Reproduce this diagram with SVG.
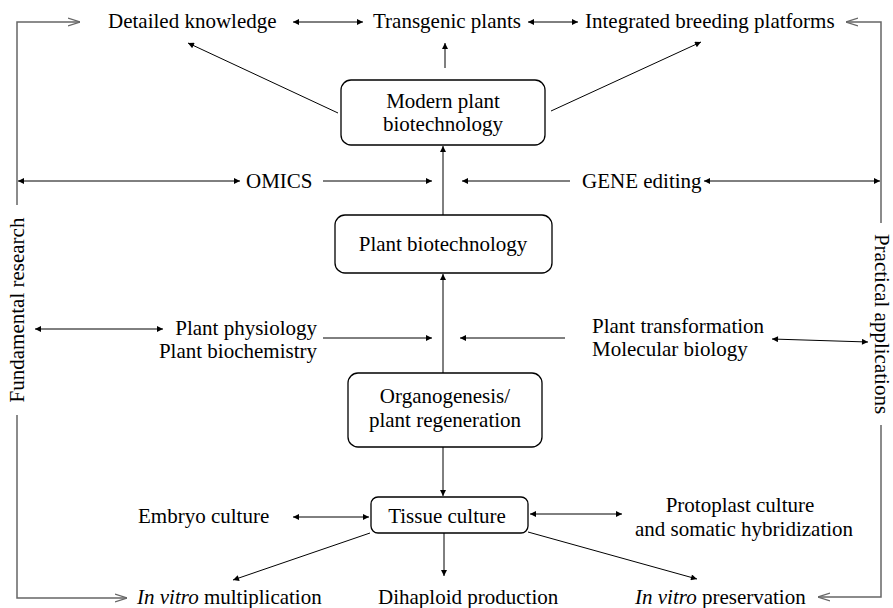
<svg xmlns="http://www.w3.org/2000/svg" width="893" height="608" viewBox="0 0 893 608">
  <style>
    text { font-family: "Liberation Serif", "Times New Roman", serif; font-size: 21px; fill: #000; }
    .c { text-anchor: middle; }
    .e { text-anchor: end; }
    .box { fill: #fff; stroke: #000; stroke-width: 1.3; }
    .ln { fill: none; stroke: #000; stroke-width: 1; }
    .arr { marker-end: url(#ah); }
    .dbl { marker-start: url(#ah); marker-end: url(#ah); }
    .br { fill: none; stroke: #666; stroke-width: 1.5; }
    .open { marker-end: url(#open); }
  </style>
  <defs>
    <marker id="ah" viewBox="0 0 10 10" refX="10" refY="5" markerWidth="8" markerHeight="6" markerUnits="userSpaceOnUse" orient="auto-start-reverse">
      <path d="M0,0 L10,5 L0,10 z" fill="#000"/>
    </marker>
    <marker id="open" viewBox="0 0 12 10" refX="12" refY="5" markerWidth="12" markerHeight="10" markerUnits="userSpaceOnUse" orient="auto">
      <path d="M0,1 L12,5 L0,9" fill="none" stroke="#666" stroke-width="1.2"/>
    </marker>
  </defs>

  <!-- side brackets: fundamental research / practical applications -->
  <g id="bracket-left">
    <path class="br open" d="M17,205 V22 H80"/>
    <path class="br open" d="M17,415 V598 H127"/>
    <text class="c" transform="translate(24,310) rotate(-90)">Fundamental research</text>
  </g>
  <g id="bracket-right">
    <path class="br open" d="M881,223 V22 H846"/>
    <path class="br open" d="M881,425 V597 H818"/>
    <text class="c" transform="translate(875,324) rotate(90)">Practical applications</text>
  </g>

  <!-- central boxes -->
  <g id="modern">
    <rect class="box" x="341" y="80" width="204" height="65" rx="10"/>
    <text class="c" x="443" y="108">Modern plant</text>
    <text class="c" x="443" y="131">biotechnology</text>
  </g>
  <g id="plant-biotech">
    <rect class="box" x="335" y="215" width="217" height="58" rx="10"/>
    <text class="c" x="443" y="251">Plant biotechnology</text>
  </g>
  <g id="organogenesis">
    <rect class="box" x="348" y="373" width="194" height="74" rx="10"/>
    <text class="c" x="445" y="403">Organogenesis/</text>
    <text class="c" x="445" y="427">plant regeneration</text>
  </g>
  <g id="tissue">
    <rect class="box" x="371" y="497" width="157" height="36" rx="7"/>
    <text class="c" x="447" y="523">Tissue culture</text>
  </g>

  <!-- outcome and input labels -->
  <g id="detailed"><text x="108" y="28">Detailed knowledge</text></g>
  <g id="transgenic"><text x="373" y="28">Transgenic plants</text></g>
  <g id="integrated"><text x="585" y="28">Integrated breeding platforms</text></g>
  <g id="omics"><text x="246" y="188">OMICS</text></g>
  <g id="gene"><text x="582" y="188">GENE editing</text></g>
  <g id="physiology">
    <text class="e" x="317" y="335">Plant physiology</text>
    <text class="e" x="317" y="358">Plant biochemistry</text>
  </g>
  <g id="transformation">
    <text x="592" y="333">Plant transformation</text>
    <text x="592" y="356">Molecular biology</text>
  </g>
  <g id="embryo"><text x="138" y="523">Embryo culture</text></g>
  <g id="protoplast">
    <text class="c" x="740" y="512">Protoplast culture</text>
    <text class="c" x="744" y="536">and somatic hybridization</text>
  </g>
  <g id="multiplication"><text x="137" y="604"><tspan font-style="italic">In vitro</tspan> multiplication</text></g>
  <g id="dihaploid"><text x="378" y="604">Dihaploid production</text></g>
  <g id="preservation"><text x="635" y="604"><tspan font-style="italic">In vitro</tspan> preservation</text></g>

  <!-- connectors -->
  <g id="connectors">
    <line class="ln dbl" x1="293" y1="22" x2="363" y2="22"/>
    <line class="ln dbl" x1="528" y1="22" x2="578" y2="22"/>
    <line class="ln arr" x1="445" y1="68" x2="445" y2="43"/>
    <line class="ln arr" x1="338" y1="113" x2="188" y2="43"/>
    <line class="ln arr" x1="551" y1="111" x2="701" y2="42"/>

    <line class="ln arr" x1="443" y1="215" x2="443" y2="146"/>
    <line class="ln dbl" x1="18" y1="181" x2="240" y2="181"/>
    <line class="ln arr" x1="323" y1="181" x2="432" y2="181"/>
    <line class="ln arr" x1="570" y1="181" x2="462" y2="181"/>
    <line class="ln dbl" x1="704" y1="181" x2="880" y2="181"/>

    <line class="ln arr" x1="443" y1="373" x2="443" y2="274"/>
    <line class="ln dbl" x1="35" y1="329" x2="163" y2="329"/>
    <line class="ln arr" x1="323" y1="338" x2="432" y2="338"/>
    <line class="ln arr" x1="565" y1="338" x2="460" y2="338"/>
    <line class="ln dbl" x1="772" y1="339" x2="868" y2="342"/>

    <line class="ln arr" x1="443" y1="447" x2="443" y2="496"/>
    <line class="ln dbl" x1="293" y1="517" x2="369" y2="517"/>
    <line class="ln dbl" x1="530" y1="514" x2="622" y2="514"/>
    <line class="ln arr" x1="370" y1="533" x2="233" y2="580"/>
    <line class="ln arr" x1="444" y1="533" x2="444" y2="576"/>
    <line class="ln arr" x1="528" y1="532" x2="697" y2="579"/>
  </g>
</svg>
